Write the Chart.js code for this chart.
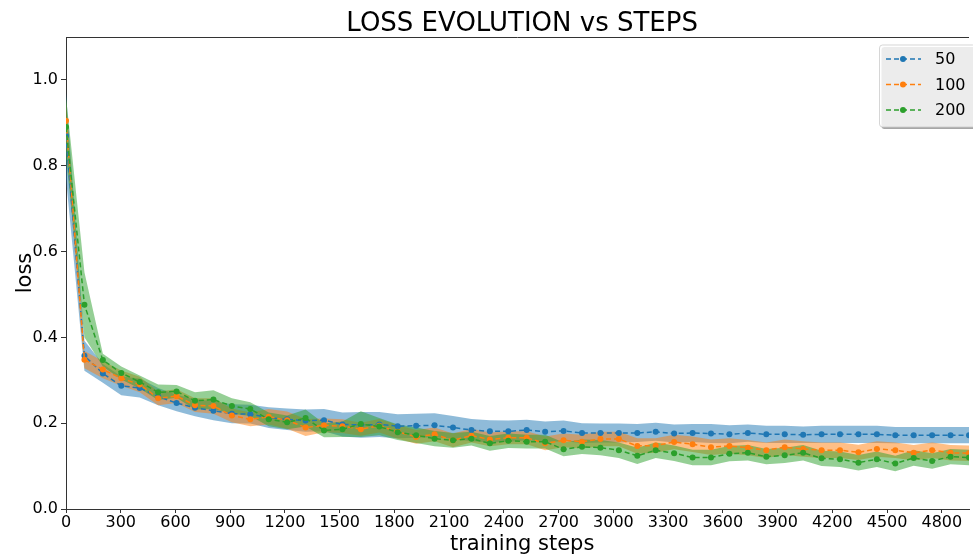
<!DOCTYPE html>
<html>
<head>
<meta charset="utf-8">
<title>LOSS EVOLUTION vs STEPS</title>
<script src="https://cdn.jsdelivr.net/npm/chart.js@4.4.1/dist/chart.umd.min.js"></script>
<style>
  html, body { margin: 0; padding: 0; background: #fff; }
  canvas { display: block; }
</style>
</head>
<body>
<canvas id="loss-chart" width="973" height="557"></canvas>
<script>
// --- Данные графика ---
const steps = [
    0, 101, 202, 303, 404, 505, 606, 707, 808, 909,
    1010, 1111, 1212, 1313, 1414, 1515, 1616, 1717, 1818, 1919,
    2020, 2121, 2222, 2323, 2424, 2525, 2626, 2727, 2828, 2929,
    3030, 3131, 3232, 3333, 3434, 3535, 3636, 3737, 3838, 3939,
    4040, 4141, 4242, 4343, 4444, 4545, 4646, 4747, 4848, 4949
];

const seriesLabels = ['50', '100', '200'];

const loss50 = [
    0.870, 0.357, 0.316, 0.287, 0.282, 0.262, 0.247, 0.236, 0.229, 0.222,
    0.221, 0.213, 0.209, 0.206, 0.207, 0.197, 0.196, 0.197, 0.193, 0.194,
    0.195, 0.190, 0.184, 0.181, 0.181, 0.184, 0.180, 0.182, 0.177, 0.177,
    0.177, 0.177, 0.180, 0.176, 0.177, 0.176, 0.174, 0.177, 0.174, 0.174,
    0.173, 0.174, 0.174, 0.174, 0.174, 0.172, 0.172, 0.172, 0.172, 0.172
];
const std50 = [
    0.100, 0.035, 0.022, 0.022, 0.022, 0.020, 0.019, 0.020, 0.022, 0.022,
    0.022, 0.024, 0.025, 0.026, 0.026, 0.028, 0.030, 0.029, 0.028, 0.028,
    0.028, 0.027, 0.026, 0.026, 0.025, 0.024, 0.024, 0.024, 0.023, 0.022,
    0.022, 0.021, 0.021, 0.021, 0.021, 0.022, 0.021, 0.020, 0.020, 0.020,
    0.019, 0.020, 0.020, 0.020, 0.020, 0.019, 0.019, 0.019, 0.019, 0.019
];

const loss100 = [
    0.905, 0.348, 0.325, 0.305, 0.290, 0.258, 0.263, 0.242, 0.240, 0.218,
    0.209, 0.215, 0.207, 0.190, 0.195, 0.193, 0.186, 0.194, 0.180, 0.168,
    0.174, 0.160, 0.171, 0.162, 0.166, 0.166, 0.153, 0.160, 0.157, 0.163,
    0.163, 0.147, 0.148, 0.156, 0.151, 0.144, 0.147, 0.143, 0.137, 0.144,
    0.140, 0.137, 0.137, 0.132, 0.140, 0.137, 0.131, 0.137, 0.131, 0.130
];
const std100 = [
    0.050, 0.020, 0.020, 0.018, 0.018, 0.016, 0.016, 0.016, 0.018, 0.016,
    0.016, 0.018, 0.020, 0.020, 0.016, 0.016, 0.015, 0.016, 0.016, 0.016,
    0.016, 0.016, 0.016, 0.016, 0.015, 0.015, 0.016, 0.016, 0.016, 0.017,
    0.017, 0.018, 0.017, 0.017, 0.018, 0.018, 0.018, 0.018, 0.018, 0.018,
    0.018, 0.018, 0.018, 0.018, 0.018, 0.018, 0.018, 0.018, 0.018, 0.018
];

const loss200 = [
    0.890, 0.476, 0.347, 0.317, 0.296, 0.272, 0.274, 0.252, 0.255, 0.240,
    0.233, 0.209, 0.202, 0.212, 0.183, 0.186, 0.198, 0.192, 0.179, 0.172,
    0.164, 0.160, 0.164, 0.153, 0.159, 0.157, 0.157, 0.139, 0.145, 0.143,
    0.137, 0.124, 0.137, 0.130, 0.120, 0.120, 0.129, 0.131, 0.122, 0.125,
    0.131, 0.118, 0.116, 0.108, 0.116, 0.106, 0.119, 0.112, 0.122, 0.120
];
const std200 = [
    0.070, 0.076, 0.015, 0.015, 0.015, 0.018, 0.015, 0.020, 0.022, 0.018,
    0.016, 0.016, 0.016, 0.020, 0.016, 0.018, 0.030, 0.020, 0.018, 0.018,
    0.018, 0.017, 0.016, 0.017, 0.017, 0.016, 0.016, 0.016, 0.017, 0.018,
    0.018, 0.019, 0.018, 0.018, 0.018, 0.018, 0.018, 0.018, 0.018, 0.018,
    0.018, 0.018, 0.018, 0.018, 0.018, 0.018, 0.018, 0.018, 0.018, 0.018
];

const xTickStep = 300;
const yTickStep = 0.2;

// --- Оформление ---
const colors = ['#1f77b4', '#ff7f0e', '#2ca02c'];
const bandColors = ['rgba(31,119,180,0.5)', 'rgba(255,127,14,0.5)', 'rgba(44,160,44,0.5)'];
const FONT = '"DejaVu Sans", "Liberation Sans", sans-serif';
const AXIS_COLOR = '#333';

const means = [loss50, loss100, loss200];
const stds = [std50, std100, std200];

function toPoints(values) {
    return steps.map((s, i) => ({ x: s, y: values[i] }));
}

// Полосы (среднее ± std): нижняя граница + верхняя с заливкой до нижней
const datasets = [];
means.forEach((m, k) => {
    datasets.push({
        label: 'low-' + seriesLabels[k],
        data: toPoints(m.map((v, i) => v - stds[k][i])),
        borderWidth: 0,
        pointRadius: 0,
        fill: false,
        order: 30 - k * 10
    });
    datasets.push({
        label: 'high-' + seriesLabels[k],
        data: toPoints(m.map((v, i) => v + stds[k][i])),
        borderWidth: 0,
        pointRadius: 0,
        backgroundColor: bandColors[k],
        fill: '-1',
        order: 30 - k * 10
    });
});
// Линии средних поверх полос
means.forEach((m, k) => {
    datasets.push({
        label: seriesLabels[k],
        data: toPoints(m),
        borderColor: colors[k],
        borderWidth: 1.5,
        borderDash: [5, 3],
        pointRadius: 3,
        pointBackgroundColor: colors[k],
        pointBorderWidth: 0,
        fill: false,
        tension: 0,
        order: 3 - k
    });
});

// Подписи, верхняя рамка и легенда в стиле matplotlib
const decorPlugin = {
    id: 'decor',
    afterDraw(chart) {
        const c = chart.ctx;
        const area = chart.chartArea;
        const xs = chart.scales.x;
        const centerX = (xs.getPixelForValue(0) + xs.getPixelForValue(5000)) / 2;

        c.save();
        // верхняя рамка
        c.strokeStyle = AXIS_COLOR;
        c.lineWidth = 1;
        c.beginPath();
        c.moveTo(area.left, area.top + 0.5);
        c.lineTo(area.right, area.top + 0.5);
        c.stroke();

        c.fillStyle = '#000';
        c.textAlign = 'center';
        c.textBaseline = 'alphabetic';
        c.font = '26px ' + FONT;
        c.fillText('LOSS EVOLUTION vs STEPS', centerX, 31);

        c.font = '21px ' + FONT;
        c.fillText('training steps', centerX, 550);

        c.translate(31, (area.top + area.bottom) / 2);
        c.rotate(-Math.PI / 2);
        c.fillText('loss', 0, 0);
        c.restore();

        // легенда
        c.save();
        const bx = 879.5, by = 45, bw = 96, bh = 82;
        c.fillStyle = 'rgba(77,77,77,0.5)';
        c.beginPath();
        c.roundRect(bx + 2, by + 2, bw, bh, 3);
        c.fill();
        c.fillStyle = 'rgba(255,255,255,0.8)';
        c.strokeStyle = 'rgba(204,204,204,0.8)';
        c.lineWidth = 1;
        c.beginPath();
        c.roundRect(bx, by, bw, bh, 3);
        c.fill();
        c.stroke();

        const rows = [59, 84.5, 110];
        c.font = '16px ' + FONT;
        c.textAlign = 'left';
        c.textBaseline = 'middle';
        seriesLabels.forEach((lab, k) => {
            const y = rows[k];
            c.strokeStyle = colors[k];
            c.lineWidth = 1.5;
            c.setLineDash([5, 3]);
            c.beginPath();
            c.moveTo(886, y);
            c.lineTo(921, y);
            c.stroke();
            c.setLineDash([]);
            c.fillStyle = colors[k];
            c.beginPath();
            c.arc(903, y, 3, 0, Math.PI * 2);
            c.fill();
            c.fillStyle = '#000';
            c.fillText(lab, 935, y + 1);
        });
        c.restore();
    }
};

const chart = new Chart(document.getElementById('loss-chart').getContext('2d'), {
    type: 'line',
    data: { datasets: datasets },
    options: {
        responsive: false,
        animation: false,
        layout: { padding: { top: 37, right: 0, left: 0, bottom: 0 } },
        plugins: {
            legend: { display: false },
            title: { display: false },
            tooltip: { enabled: false }
        },
        scales: {
            x: {
                type: 'linear',
                min: 0,
                max: steps[steps.length - 1],
                afterFit: s => { s.height = 48; },
                ticks: {
                    stepSize: xTickStep,
                    includeBounds: false,
                    autoSkip: false,
                    maxRotation: 0,
                    padding: 0,
                    color: '#000',
                    font: { family: FONT, size: 16 },
                    callback: v => String(v)
                },
                grid: { drawOnChartArea: false, drawTicks: true, tickLength: 4, color: AXIS_COLOR },
                border: { color: AXIS_COLOR, width: 1 }
            },
            y: {
                min: 0,
                max: 1.1,
                afterFit: s => { s.width = 66; },
                ticks: {
                    stepSize: yTickStep,
                    includeBounds: false,
                    padding: 3,
                    color: '#000',
                    font: { family: FONT, size: 16 },
                    callback: v => Number(v).toFixed(1)
                },
                grid: { drawOnChartArea: false, drawTicks: true, tickLength: 5, color: AXIS_COLOR },
                border: { color: AXIS_COLOR, width: 1 }
            }
        }
    },
    plugins: [decorPlugin]
});
</script>
</body>
</html>
